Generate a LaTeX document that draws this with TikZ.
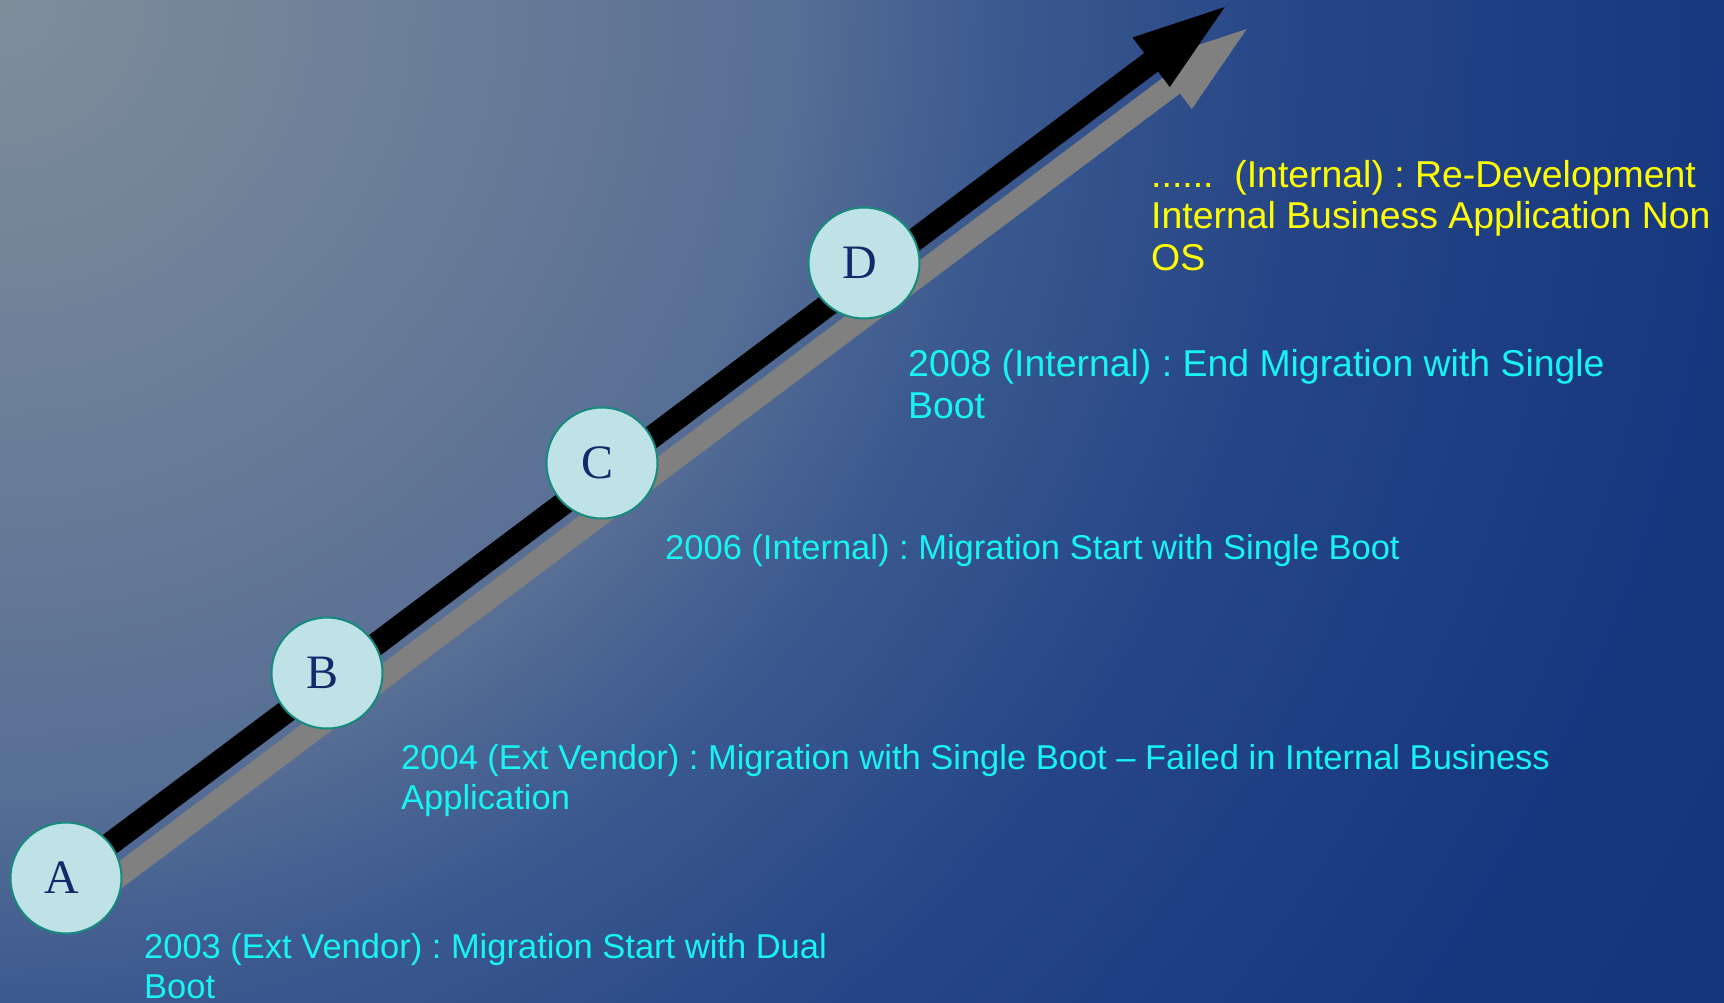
\documentclass[tikz,border=0pt]{standalone}
\usepackage{fontspec}
\setmainfont{Liberation Sans}
\newfontfamily\letterfont{Liberation Serif}
\definecolor{tcyan}{RGB}{22,244,244}
\definecolor{tyellow}{RGB}{255,255,0}
\definecolor{circfill}{RGB}{190,226,230}
\definecolor{circline}{RGB}{22,138,126}
\definecolor{letterblue}{RGB}{16,42,106}
\definecolor{shadowgray}{RGB}{128,128,128}
\definecolor{bgA}{RGB}{128,142,155}
\definecolor{bgB}{RGB}{104,124,152}
\definecolor{bgC}{RGB}{87,110,149}
\definecolor{bgD}{RGB}{60,90,143}
\definecolor{bgE}{RGB}{38,70,135}
\definecolor{bgF}{RGB}{24,57,128}
\definecolor{bgG}{RGB}{20,52,124}
\tikzset{
 milestone/.style={circle, draw=circline, line width=2pt, fill=circfill,
   minimum size=111pt, inner sep=0pt, text=letterblue,
   font=\letterfont\fontsize{48}{48}\selectfont},
 cyantext/.style={text=tcyan, font=\fontsize{34.5}{39.5}\selectfont,
   anchor=base west, inner sep=0pt, align=left},
 bigcyantext/.style={text=tcyan, font=\fontsize{37.4}{42}\selectfont,
   anchor=base west, inner sep=0pt, align=left},
 yellowtext/.style={text=tyellow, font=\fontsize{37.4}{41.5}\selectfont,
   anchor=base west, inner sep=0pt, align=left}
}
\newcommand{\blockarrow}{(0,-11.5) -- (1357,-11.5) -- (1357,-31) -- (1449,0) -- (1357,31) -- (1357,11.5) -- (0,11.5) -- cycle}
\newcommand{\mlabel}[1]{#1\kern8pt}
\frenchspacing
\begin{document}
\begin{tikzpicture}[x={(1pt,0pt)}, y={(0pt,-1pt)}]
\useasboundingbox (0,0) rectangle (1724,1002);
\begin{scope}
 \clip (0,0) rectangle (1724,1002);
 \foreach \ra/\rb/\ca/\cb in {1700/2000/bgF/bgG, 1300/1700/bgE/bgF, 1000/1300/bgD/bgE, 800/1000/bgC/bgD, 500/800/bgB/bgC, 0/500/bgA/bgB}{
  \foreach \k in {0,...,23}{
   \pgfmathsetmacro\rr{\rb-\k*(\rb-\ra)/24}
   \pgfmathsetmacro\pp{100-\k*100/24}
   \fill[\cb!\pp!\ca] (0,0) circle (\rr);
  }
 }
\end{scope}
\coordinate (tail) at (66,877);
\coordinate (shadowtail) at (88,899);
\begin{scope}[shift={(shadowtail)}, rotate=36.9]
 \fill[shadowgray] \blockarrow;
\end{scope}
\begin{scope}[shift={(tail)}, rotate=36.9]
 \fill[black] \blockarrow;
\end{scope}
\node[milestone] (A) at (66,878) {\mlabel{A}};
\node[milestone] (B) at (327,673) {\mlabel{B}};
\node[milestone] (C) at (602,463) {\mlabel{C}};
\node[milestone] (D) at (864,263) {\mlabel{D}};
\node[cyantext] (tA) at (144,998) {2003 (Ext Vendor) : Migration Start with Dual\\Boot};
\node[cyantext] (tB) at (401,809) {2004 (Ext Vendor) : Migration with Single Boot – Failed in Internal Business\\Application};
\node[cyantext] (tC) at (665,559) {2006 (Internal) : Migration Start with Single Boot};
\node[bigcyantext] (tD) at (908,418) {2008 (Internal) : End Migration with Single\\Boot};
\node[yellowtext] (tE) at (1151,270) {......\ \ (Internal) : Re-Development\\Internal Business Application Non\\OS};
\end{tikzpicture}
\end{document}
